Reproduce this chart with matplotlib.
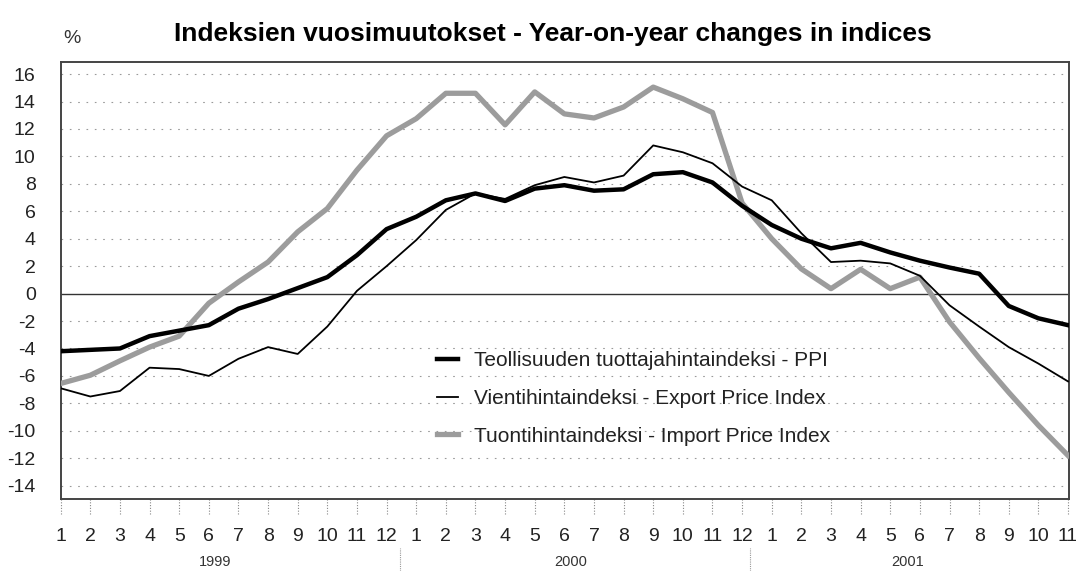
import numpy as np
import matplotlib
matplotlib.use("Agg")
import matplotlib.pyplot as plt

# month labels, Jan 1999 - Nov 2001
months = [str(m) for m in range(1, 13)] * 2 + [str(m) for m in range(1, 12)]
years = ["1999", "2000", "2001"]

ppi = [-4.2, -4.1, -4.0, -3.1, -2.7, -2.3, -1.1, -0.4, 0.4, 1.2, 2.8, 4.7,
       5.6, 6.8, 7.3, 6.75, 7.65, 7.9, 7.5, 7.6, 8.7, 8.85, 8.1, 6.4,
       5.0, 4.0, 3.3, 3.7, 3.0, 2.4, 1.9, 1.45, -0.9, -1.8, -2.3]
export = [-6.9, -7.5, -7.1, -5.4, -5.5, -6.0, -4.75, -3.9, -4.4, -2.4, 0.2, 2.0,
          3.9, 6.1, 7.3, 6.9, 7.9, 8.5, 8.1, 8.6, 10.8, 10.3, 9.5, 7.8,
          6.8, 4.4, 2.3, 2.4, 2.2, 1.3, -0.85, -2.4, -3.9, -5.1, -6.4]
imports = [-6.55, -5.95, -4.9, -3.9, -3.1, -0.7, 0.85, 2.3, 4.5, 6.2, 9.0, 11.5,
           12.75, 14.6, 14.6, 12.3, 14.7, 13.1, 12.8, 13.6, 15.05, 14.2, 13.2, 6.6,
           4.0, 1.8, 0.36, 1.77, 0.36, 1.2, -2.06, -4.7, -7.2, -9.6, -11.8]

labels = ["Teollisuuden tuottajahintaindeksi - PPI",
          "Vientihintaindeksi - Export Price Index",
          "Tuontihintaindeksi - Import Price Index"]
yticks = list(range(-14, 17, 2))

plt.rcParams["font.family"] = ["Liberation Sans", "DejaVu Sans"]

x = np.arange(len(months))

fig = plt.figure(figsize=(10.76, 5.71), dpi=100)
ax = fig.add_axes([0.0564, 0.1261, 0.937, 0.7658])

# grid
for v in yticks:
    if v == 0:
        ax.axhline(0, color="#333333", lw=1.0, zorder=1)
    else:
        ax.axhline(v, color="#9a9a9a", lw=0.8, ls=(0, (1.5, 6)), zorder=1)

ax.plot(x, ppi, color="black", lw=3.2, label=labels[0], zorder=4,
        solid_joinstyle="round")
ax.plot(x, export, color="black", lw=1.3, label=labels[1], zorder=5)
ax.plot(x, imports, color="#9c9c9c", lw=3.8, label=labels[2], zorder=3,
        solid_joinstyle="round")

ax.set_xlim(0, 34.03)
ax.set_ylim(-14.97, 16.9)
ax.set_yticks(yticks)
ax.set_yticklabels([str(v) for v in yticks], fontsize=14, color="#222222")
ax.set_xticks(x)
ax.set_xticklabels(months, fontsize=14, color="#222222")
ax.tick_params(axis="y", length=0, pad=18)
ax.tick_params(axis="x", length=0, pad=21)

for s in ax.spines.values():
    s.set_color("#444444")
    s.set_linewidth(1.4)

# dotted tick marks below the axis
ax.vlines(x, -0.034, 0, transform=ax.get_xaxis_transform(), colors="#888888",
          linestyles=(0, (1, 1.5)), lw=0.8, clip_on=False)

# year labels and separators
for pos, yr in zip([5.2, 17.2, 28.6], years):
    ax.text(pos, -0.144, yr, transform=ax.get_xaxis_transform(), ha="center",
            va="center", fontsize=10.5, color="#333333")
for pos in [11.45, 23.25]:
    ax.vlines(pos, -0.164, -0.112, transform=ax.get_xaxis_transform(),
              colors="#999999", linestyles=(0, (1, 1)), lw=0.8, clip_on=False)

leg = ax.legend(loc="upper left", bbox_to_anchor=(0.373, 0.338), frameon=False,
                fontsize=15, handlelength=1.0, handletextpad=0.8,
                labelspacing=0.9, borderpad=0, borderaxespad=0)
for t in leg.get_texts():
    t.set_color("#222222")

fig.text(0.514, 0.928, "Indeksien vuosimuutokset - Year-on-year changes in indices",
         ha="center", va="baseline", fontsize=19, fontweight="bold")
fig.text(0.059, 0.925, "%", fontsize=14, color="#333333")

fig.savefig("out.png", dpi=100)
